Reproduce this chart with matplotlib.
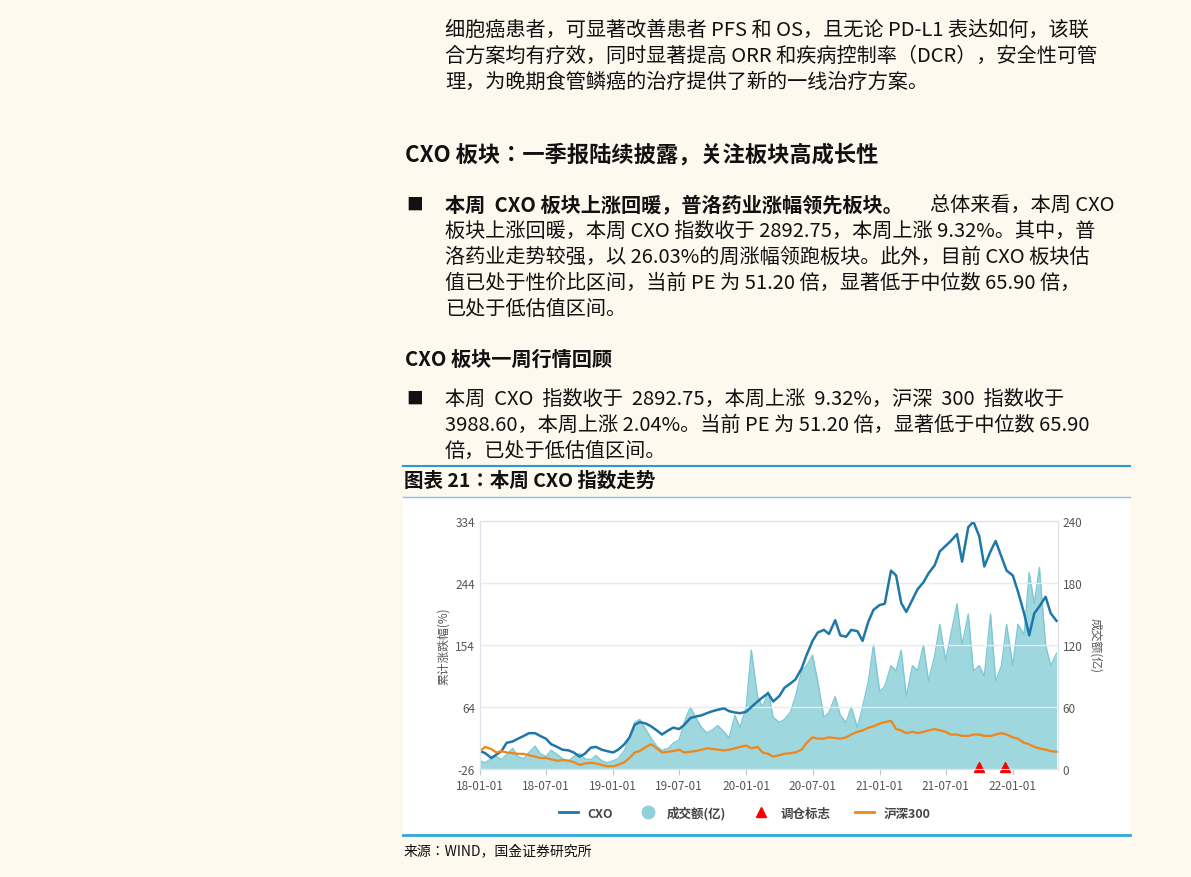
import numpy as np
import pandas as pd
import matplotlib
matplotlib.use("Agg")
import matplotlib.pyplot as plt
from matplotlib.lines import Line2D
from matplotlib.patches import Rectangle
from matplotlib import font_manager as fm

cjk = None
for f in fm.fontManager.ttflist:
    if "CJK" in f.name and ("SC" in f.name or cjk is None):
        cjk = f.name
        if "SC" in f.name:
            break
if cjk is None:
    import glob
    for p in glob.glob("/usr/share/fonts/**/*CJK*", recursive=True):
        try:
            fm.fontManager.addfont(p)
        except Exception:
            pass
    for f in fm.fontManager.ttflist:
        if "CJK" in f.name:
            cjk = f.name
            break
plt.rcParams["font.family"] = [cjk or "Noto Sans CJK SC", "DejaVu Sans"]
plt.rcParams["axes.unicode_minus"] = False

dates = pd.date_range("2018-01-01", "2022-05-01", freq="SMS")
cxo = [0,-3,-10,-5,0,12,14,18,22,26,26,22,18,10,6,2,1,-2,-8,-4,5,6,2,0,
       -2,2,10,20,38,42,40,36,30,24,30,34,32,38,48,50,52,55,58,60,62,58,56,55,
       57,64,72,78,84,72,80,92,98,104,120,140,160,172,176,170,190,168,166,176,174,160,188,205,
       212,214,262,255,215,202,220,235,245,258,270,290,298,305,315,275,325,333,312,268,290,305,282,262,
       255,232,200,168,200,210,224,200,189]
volume = [8,6,10,12,9,14,20,12,10,16,22,15,12,18,14,10,8,12,15,10,9,13,8,6,
          8,10,18,30,45,48,38,30,22,18,20,25,28,45,60,50,40,35,38,42,36,30,52,40,
          60,115,70,60,75,50,45,48,55,70,95,100,110,85,50,55,70,52,45,60,40,60,85,120,
          75,80,100,95,115,70,100,95,120,85,110,140,105,130,160,120,150,95,100,90,150,85,100,140,
          100,140,130,190,160,195,120,100,112]
hs300 = [0,6,3,-2,0,-2,-3,-4,-4,-6,-8,-10,-10,-12,-14,-13,-14,-16,-20,-18,-17,-18,-20,-22,
         -22,-20,-16,-10,-2,0,6,10,4,-2,-1,0,2,-2,-1,0,2,4,3,2,1,2,4,6,
         8,4,6,-2,-4,-8,-6,-4,-3,-2,2,12,20,18,18,20,19,18,20,24,28,30,34,36,
         40,42,44,32,30,26,28,26,28,30,32,30,28,24,24,22,22,24,24,22,22,24,26,24,
         20,18,12,10,6,4,2,0,-1]
marker_dates = pd.to_datetime(["2021-10-01", "2021-12-10"])
xtick_dates = pd.to_datetime(["2018-01-01","2018-07-01","2019-01-01","2019-07-01","2020-01-01",
                              "2020-07-01","2021-01-01","2021-07-01","2022-01-01"])
xtick_labels = ["18-01-01","18-07-01","19-01-01","19-07-01","20-01-01","20-07-01","21-01-01","21-07-01","22-01-01"]
left_ticks = [-26, 64, 154, 244, 334]
right_ticks = [0, 60, 120, 180, 240]

W, H = 1191, 878
fig = plt.figure(figsize=(W/100, H/100), dpi=100)
fig.patch.set_facecolor("#fdf9ef")

def fx(x): return x / W
def fy(y): return 1 - y / H

body = 14.5
def t(x, y, s, **kw):
    kw.setdefault("fontsize", body)
    fig.text(fx(x), fy(y), s, va="center", ha="left", color="#111111", **kw)

t(445, 30, "细胞癌患者，可显著改善患者 PFS 和 OS，且无论 PD-L1 表达如何，该联")
t(445, 56, "合方案均有疗效，同时显著提高 ORR 和疾病控制率（DCR），安全性可管")
t(445, 82, "理，为晚期食管鳞癌的治疗提供了新的一线治疗方案。")
t(405, 155, "CXO 板块：一季报陆续披露，关注板块高成长性", fontsize=16, fontweight="bold")
t(406, 205, "■", fontsize=12)
t(445, 205, "本周  CXO 板块上涨回暖，普洛药业涨幅领先板块。", fontweight="bold")
t(930, 205, "总体来看，本周 CXO", fontsize=body)
t(445, 231, "板块上涨回暖，本周 CXO 指数收于 2892.75，本周上涨 9.32%。其中，普")
t(445, 257, "洛药业走势较强，以 26.03%的周涨幅领跑板块。此外，目前 CXO 板块估")
t(445, 283, "值已处于性价比区间，当前 PE 为 51.20 倍，显著低于中位数 65.90 倍，")
t(445, 309, "已处于低估值区间。")
t(405, 359, "CXO 板块一周行情回顾", fontsize=14.5, fontweight="bold")
t(406, 399, "■", fontsize=12)
t(445, 399, "本周  CXO  指数收于  2892.75，本周上涨  9.32%，沪深  300  指数收于")
t(445, 425, "3988.60，本周上涨 2.04%。当前 PE 为 51.20 倍，显著低于中位数 65.90")
t(445, 451, "倍，已处于低估值区间。")

fig.add_artist(Rectangle((fx(403), fy(836)), fx(1130-403), fy(498)-fy(836),
                         facecolor="white", edgecolor="none", zorder=-10))
fig.add_artist(Line2D([fx(403), fx(1130)], [fy(467), fy(467)], color="#2a9ad6", lw=1.5))
fig.add_artist(Line2D([fx(403), fx(1130)], [fy(498), fy(498)], color="#7cc3e8", lw=1))
fig.add_artist(Line2D([fx(403), fx(1130)], [fy(836), fy(836)], color="#2fa6de", lw=2))
t(404, 481, "图表 21：本周 CXO 指数走势", fontsize=14, fontweight="bold", fontstyle="italic")
t(404, 851, "来源：WIND，国金证券研究所", fontsize=10)

ax = fig.add_axes([fx(480), fy(770), fx(1058-480), fy(522)-fy(770)])
ax2 = ax.twinx()
ax.set_zorder(ax2.get_zorder() + 1)
ax.patch.set_visible(False)
ax2.patch.set_visible(False)

ax2.fill_between(dates, volume, 0, color="#95d3dc", alpha=0.9, lw=0)
ax2.plot(dates, volume, color="#7cc8d4", lw=1)
ax2.set_ylim(0, 240)
ax.plot(dates, cxo, color="#1f77a8", lw=1.8)
ax.plot(dates, hs300, color="#f0861a", lw=1.6)
ax.plot(marker_dates, [-26 + 3, -26 + 3], "^", color="red", ms=7, clip_on=False)
ax.set_ylim(-26, 334)
ax.set_xlim(pd.Timestamp("2018-01-01"), pd.Timestamp("2022-05-05"))
ax.set_yticks(left_ticks)
ax2.set_yticks(right_ticks)
ax.set_xticks(xtick_dates)
ax.set_xticklabels(xtick_labels)
ax.grid(axis="y", color="#e8eaee", lw=1)
for a in (ax, ax2):
    for s in a.spines.values():
        s.set_color("#dde3ea")
    a.tick_params(colors="#555555", labelsize=8.5, length=0)
ax.tick_params(axis="x", length=4, color="#c0c8d0")
ax.set_ylabel("累计涨跌幅(%)", fontsize=8.5, color="#555555")
ax2.set_ylabel("成交额(亿)", fontsize=8.5, color="#555555", rotation=270, labelpad=14)

handles = [Line2D([], [], color="#1f77a8", lw=2),
           Line2D([], [], marker="o", ls="", color="#8fd0da", ms=9),
           Line2D([], [], marker="^", ls="", color="red", ms=7),
           Line2D([], [], color="#f0861a", lw=2)]
leg = fig.legend(handles, ["CXO", "成交额(亿)", "调仓标志", "沪深300"], loc="center",
                 bbox_to_anchor=(fx(745), fy(814)), ncol=4, frameon=False, fontsize=9,
                 handlelength=1.5, columnspacing=2)
for tx in leg.get_texts():
    tx.set_color("#444444"); tx.set_fontweight("bold")

fig.savefig("out.png", dpi=100, facecolor=fig.get_facecolor())
